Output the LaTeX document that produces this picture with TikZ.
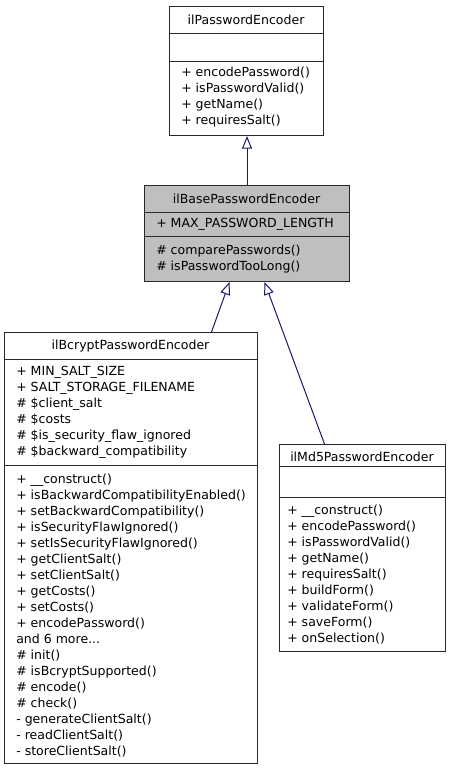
\documentclass[tikz,border=0pt]{standalone}
\usepackage{fontspec}
\setmainfont{DejaVu Sans}
\usetikzlibrary{arrows.meta,calc}
\definecolor{edgeblue}{RGB}{25,25,112}
\definecolor{basegray}{RGB}{191,191,191}
\definecolor{boxline}{RGB}{40,40,40}
\newcommand{\andmoretxt}{and 6 more...}
\begin{document}
\begin{tikzpicture}[x=0.75pt,y=-0.75pt,
  classbox/.style={draw=boxline,line width=0.75pt,rectangle,inner sep=0pt,anchor=north west},
  sepline/.style={draw=boxline,line width=0.75pt},
  mem/.style={anchor=base west,inner sep=0pt,font=\fontsize{9.4}{12}\selectfont},
  ttl/.style={anchor=base,inner sep=0pt,font=\fontsize{9.4}{12}\selectfont},
  inh/.style={draw=edgeblue,line width=0.75pt,-{Triangle[open,length=9.5pt,width=7.5pt,fill=white]}}]
\useasboundingbox (0,0) rectangle (451,771);
% ilPasswordEncoder
\node[classbox,minimum width=115.5pt,minimum height=96.75pt] (top) at (169,6) {};
\draw[sepline] (169,33) -- (323,33);
\draw[sepline] (169,61) -- (323,61);
\node[ttl] (top-t) at (246,24) {ilPasswordEncoder};
\foreach \t [count=\i from 0] in {+ encodePassword(),+ isPasswordValid(),+ getName(),+ requiresSalt()}
  \node[mem] (top-m\i) at (181,76+16*\i) {\t};
% ilBasePasswordEncoder
\node[classbox,fill=basegray,minimum width=153.75pt,minimum height=72pt] (base) at (144,185) {};
\draw[sepline] (144,212) -- (349,212);
\draw[sepline] (144,236) -- (349,236);
\node[ttl] (base-t) at (246.5,203) {ilBasePasswordEncoder};
\node[mem] (base-a0) at (156,227) {+ MAX\_PASSWORD\_LENGTH};
\node[mem] (base-m0) at (156,254) {\# comparePasswords()};
\node[mem] (base-m1) at (156,270) {\# isPasswordTooLong()};
% ilBcryptPasswordEncoder
\node[classbox,minimum width=189.75pt,minimum height=323.25pt] (bc) at (4,332) {};
\draw[sepline] (4,359) -- (257,359);
\draw[sepline] (4,465) -- (257,465);
\node[ttl] (bc-t) at (130.5,349) {ilBcryptPasswordEncoder};
\foreach \t [count=\i from 0] in {+ MIN\_SALT\_SIZE,+ SALT\_STORAGE\_FILENAME,\# \$client\_salt,\# \$costs,\# \$is\_security\_flaw\_ignored,\# \$backward\_compatibility}
  \node[mem] (bc-a\i) at (16,375+16*\i) {\t};
\foreach \t [count=\i from 0] in {+ \_\_construct(),+ isBackwardCompatibilityEnabled(),+ setBackwardCompatibility(),+ isSecurityFlawIgnored(),+ setIsSecurityFlawIgnored(),+ getClientSalt(),+ setClientSalt(),+ getCosts(),+ setCosts(),+ encodePassword(),\andmoretxt,\# init(),\# isBcryptSupported(),\# encode(),\# check(),- generateClientSalt(),- readClientSalt(),- storeClientSalt()}
  \node[mem] (bc-m\i) at (16,483+16*\i) {\t};
% ilMd5PasswordEncoder
\node[classbox,minimum width=124.5pt,minimum height=155.25pt] (md) at (279,444) {};
\draw[sepline] (279,466) -- (445,466);
\draw[sepline] (279,497) -- (445,497);
\node[ttl] (md-t) at (362,461) {ilMd5PasswordEncoder};
\foreach \t [count=\i from 0] in {+ \_\_construct(),+ encodePassword(),+ isPasswordValid(),+ getName(),+ requiresSalt(),+ buildForm(),+ validateForm(),+ saveForm(),+ onSelection()}
  \node[mem] (md-m\i) at (287,514+16*\i) {\t};
% inheritance
\draw[inh] (base.north) -- (base.north |- top.south);
\draw[inh] ($(bc.north)+(80.5,0)$) -- ($(base.south)+(-17.5,0)$);
\draw[inh] ($(md.north)+(-38,0)$) -- ($(base.south)+(17.5,0)$);
\end{tikzpicture}
\end{document}
